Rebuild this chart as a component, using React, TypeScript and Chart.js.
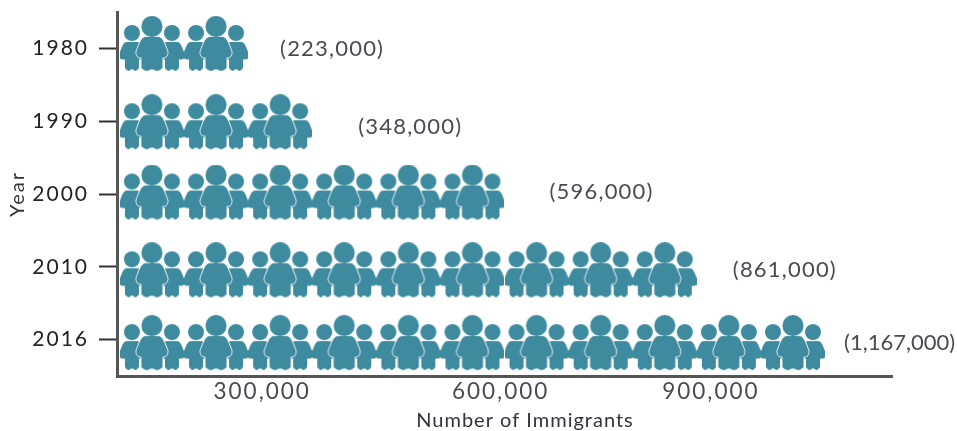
import React, { useEffect, useRef } from "react";
import { Chart, registerables } from "chart.js";

Chart.register(...registerables);

// Immigrant totals per year and the number of family icons in each row.
const years = ["1980", "1990", "2000", "2010", "2016"];
const immigrantLabels = ["(223,000)", "(348,000)", "(596,000)", "(861,000)", "(1,167,000)"];
const familyCounts = [2, 3, 6, 9, 11];
const xTickLabels = ["300,000", "600,000", "900,000"];

// Placement of rows and annotations, in family units and pixels.
const xTickSpots = [2.22, 5.94, 9.22];
const rowNudgePx = [-4.5, 1, -1.5, 3.5, 3.5];
const labelNudgePx = [1, 6, -2, 3, 3];
const labelGapPx = [32, 46, 45, 36, 19];
const labelSpacingPx = [1.2, 1.2, 1.2, 1.2, 0];

const TEAL = "#3e8a9e";
const FONT = "Lato, 'Open Sans', sans-serif";
const ROW_STEP_PX = 73;

function drawPerson(
  g: CanvasRenderingContext2D,
  cx: number,
  headY: number,
  headR: number,
  top: number,
  bottom: number,
  armW: number,
  legW: number,
  halo: boolean
) {
  const h = bottom - top;
  const waist = top + h * 0.62;
  const body = new Path2D();
  body.moveTo(cx - armW * 0.4, top);
  body.bezierCurveTo(cx - armW * 0.7, top, cx - armW * 0.8, top + h * 0.2, cx - armW, top + h * 0.42);
  body.bezierCurveTo(cx - armW * 1.05, top + h * 0.58, cx - armW * 0.8, waist, cx - legW, waist - h * 0.02);
  body.lineTo(cx - legW, bottom - 3);
  body.quadraticCurveTo(cx - legW * 0.6, bottom + 1.5, cx - legW * 0.25, bottom - 1);
  body.quadraticCurveTo(cx, bottom - 2.5, cx + legW * 0.25, bottom - 1);
  body.quadraticCurveTo(cx + legW * 0.6, bottom + 1.5, cx + legW, bottom - 3);
  body.lineTo(cx + legW, waist - h * 0.02);
  body.bezierCurveTo(cx + armW * 0.8, waist, cx + armW * 1.05, top + h * 0.58, cx + armW, top + h * 0.42);
  body.bezierCurveTo(cx + armW * 0.8, top + h * 0.2, cx + armW * 0.7, top, cx + armW * 0.4, top);
  body.closePath();

  const head = new Path2D();
  head.arc(cx, headY, headR, 0, Math.PI * 2);

  g.fillStyle = TEAL;
  g.strokeStyle = "#eef5f7";
  g.lineWidth = 1.8;
  if (halo) {
    g.stroke(body);
    g.stroke(head);
  }
  g.fill(body);
  g.fill(head);
}

// One family: two children either side of an adult, their outer arms reaching the tile edge.
function makeFamilyIcon(): HTMLCanvasElement {
  const c = document.createElement("canvas");
  c.width = 64;
  c.height = 56;
  const g = c.getContext("2d")!;
  drawPerson(g, 12, 17, 8, 26, 55, 12.8, 7, false);
  drawPerson(g, 52, 17, 8, 26, 55, 12.8, 7, false);
  drawPerson(g, 32, 10.5, 10.5, 21, 55, 15.5, 10.5, true);
  return c;
}

// Year-total captions, the horizontal axis caption, and the wide tracking of the axis text.
const rowAnnotations = {
  id: "rowAnnotations",
  beforeDraw(chart: any) {
    chart.ctx.letterSpacing = "2px";
  },
  afterDraw(chart: any) {
    const { ctx, scales } = chart;
    ctx.save();
    ctx.font = `22px ${FONT}`;
    ctx.fillStyle = "#4a4a55";
    ctx.textAlign = "left";
    ctx.textBaseline = "middle";
    immigrantLabels.forEach((text, i) => {
      ctx.letterSpacing = `${labelSpacingPx[i]}px`;
      const x = scales.x.getPixelForValue(familyCounts[i]) + labelGapPx[i];
      const y = scales.y.getPixelForTick(i) + labelNudgePx[i];
      ctx.fillText(text, x, y);
    });
    ctx.font = `20px ${FONT}`;
    ctx.fillStyle = "#333340";
    ctx.letterSpacing = "1px";
    ctx.textAlign = "center";
    ctx.fillText("Number of Immigrants", 525, 421);
    ctx.restore();
    ctx.letterSpacing = "0px";
  },
};

export default function App() {
  const ref = useRef<HTMLCanvasElement>(null);

  useEffect(() => {
    const icon = makeFamilyIcon();
    const points = familyCounts.flatMap((count, row) =>
      Array.from({ length: count }, (_, i) => ({
        x: i + 0.5,
        y: row + rowNudgePx[row] / ROW_STEP_PX,
      }))
    );

    const chart = new Chart(ref.current!, {
      type: "scatter",
      data: {
        datasets: [
          {
            data: points,
            xAxisID: "x",
            yAxisID: "rows",
            pointStyle: icon,
            pointRadius: 32,
          },
        ],
      },
      plugins: [rowAnnotations],
      options: {
        animation: false,
        responsive: false,
        layout: { autoPadding: false, padding: { top: 12, right: 65, left: 0, bottom: 0 } },
        plugins: { legend: { display: false }, tooltip: { enabled: false } },
        scales: {
          x: {
            type: "linear",
            min: -0.045,
            max: 12.045,
            afterBuildTicks: (scale: any) => {
              scale.ticks = xTickSpots.map((value) => ({ value }));
            },
            afterFit: (scale: any) => {
              scale.height = 55;
              scale.paddingLeft = 0;
              scale.paddingRight = 0;
            },
            ticks: {
              autoSkip: false,
              maxRotation: 0,
              padding: 2,
              color: "#4a4a55",
              font: { family: FONT, size: 22.5 },
              callback: (_v: any, i: number) => xTickLabels[i],
            },
            grid: { display: false, drawTicks: false },
            border: { display: true, color: "#555555", width: 3 },
          },
          y: {
            type: "category",
            labels: years,
            offset: true,
            afterFit: (scale: any) => {
              scale.width = 117;
              scale.paddingTop = 0;
              scale.paddingBottom = 0;
            },
            ticks: {
              padding: 10,
              color: "#22222a",
              font: { family: FONT, size: 21 },
            },
            grid: {
              drawOnChartArea: false,
              drawTicks: true,
              tickLength: 18,
              tickColor: "#333333",
              tickWidth: 2,
            },
            border: { display: true, color: "#555555", width: 3 },
            title: {
              display: true,
              text: "Year",
              color: "#333340",
              font: { family: FONT, size: 20 },
              padding: { top: 6, bottom: 0 },
            },
          },
          rows: {
            axis: "y",
            type: "linear",
            display: false,
            min: -0.5,
            max: 4.5,
            reverse: true,
          },
        },
      },
    } as any);

    return () => chart.destroy();
  }, []);

  return (
    <div style={{ position: "absolute", left: 0, top: 0, width: 957, height: 431, background: "#fff" }}>
      <canvas ref={ref} width={957} height={431} style={{ display: "block" }} />
    </div>
  );
}
